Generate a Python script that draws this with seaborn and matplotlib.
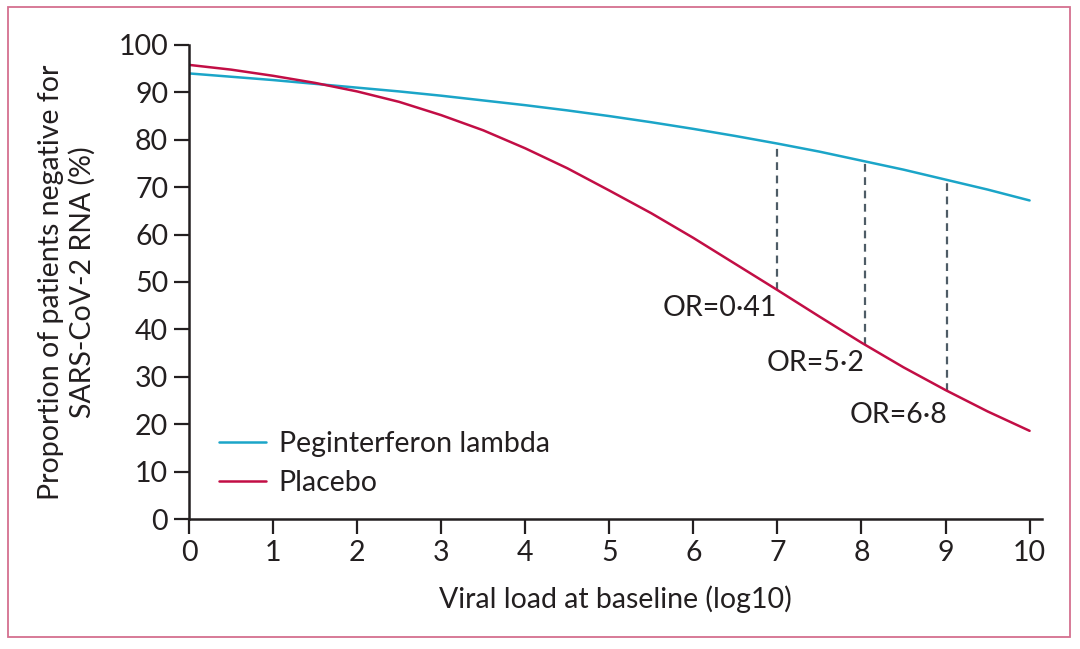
import numpy as np
import pandas as pd
import matplotlib.pyplot as plt
import seaborn as sns
from matplotlib.patches import Rectangle

# values
viral_load = [0, 0.5, 1, 1.5, 2, 2.5, 3, 3.5, 4, 4.5, 5, 5.5, 6, 6.5, 7, 7.5, 8, 8.5, 9, 9.5, 10]
peg_lambda = [94.0, 93.3, 92.6, 91.8, 91.0, 90.2, 89.3, 88.3, 87.3, 86.2, 85.0,
              83.7, 82.3, 80.8, 79.2, 77.5, 75.6, 73.7, 71.6, 69.5, 67.2]
placebo = [95.8, 94.8, 93.5, 92.0, 90.2, 88.0, 85.2, 82.0, 78.2, 74.0, 69.3,
           64.5, 59.3, 53.8, 48.3, 42.7, 37.2, 32.0, 27.2, 22.7, 18.6]

or_x = [7.0, 8.04, 9.02]
or_labels = ["OR=0·41", "OR=5·2", "OR=6·8"]
or_label_y = [44.5, 32.9, 21.9]

series_names = ["Peginterferon lambda", "Placebo"]
colors = ["#1ba5c8", "#c20e45"]

df = pd.DataFrame({
    "x": viral_load * 2,
    "y": peg_lambda + placebo,
    "group": [series_names[0]] * len(viral_load) + [series_names[1]] * len(viral_load),
})

sns.set_style("ticks")
plt.rcParams["font.family"] = ["Lato", "DejaVu Sans"]
text_color = "#231f20"
fs = 20.5

fig = plt.figure(figsize=(10.8, 6.49), dpi=100)
ax = fig.add_axes([0.175, 0.2003, 0.79, 0.7304])

sns.lineplot(data=df, x="x", y="y", hue="group", palette=colors,
             hue_order=series_names, linewidth=1.8, ax=ax)

# dashed connectors between the two curves
for xv in or_x:
    y_lo = np.interp(xv, viral_load, placebo)
    y_hi = np.interp(xv, viral_load, peg_lambda)
    ax.plot([xv, xv], [y_lo, y_hi], ls=(0, (3.5, 2.5)), color="#4e5c66", lw=1.6, zorder=1)

for xv, lab, yv in zip(or_x, or_labels, or_label_y):
    ax.text(xv, yv, lab, ha="right", va="center", fontsize=fs, color=text_color)

ax.set_xlim(0, 10.15)
ax.set_ylim(0, 100)
ax.set_xticks(range(0, 11))
ax.set_yticks(range(0, 101, 10))
ax.tick_params(direction="out", length=11, width=1.6, labelsize=fs,
               colors=text_color, pad=4)
for side in ["left", "bottom"]:
    ax.spines[side].set_linewidth(1.8)
    ax.spines[side].set_color(text_color)
sns.despine(ax=ax)

ax.set_xlabel("Viral load at baseline (log10)", fontsize=fs, color=text_color, labelpad=14)
ax.set_ylabel("Proportion of patients negative for\nSARS-CoV-2 RNA (%)",
              fontsize=fs, color=text_color, labelpad=16, linespacing=1.25)

leg = ax.legend(loc="upper left", bbox_to_anchor=(0.005, 0.24), frameon=False,
                fontsize=fs, handlelength=1.65, handletextpad=0.45, labelspacing=0.45)
for t in leg.get_texts():
    t.set_color(text_color)

fig.patches.append(Rectangle((8 / 1080, 1 - 637 / 649), 1062 / 1080, 630 / 649,
                             transform=fig.transFigure, fill=False,
                             edgecolor="#d4708f", linewidth=1.3))

fig.savefig("out.png", dpi=100)
